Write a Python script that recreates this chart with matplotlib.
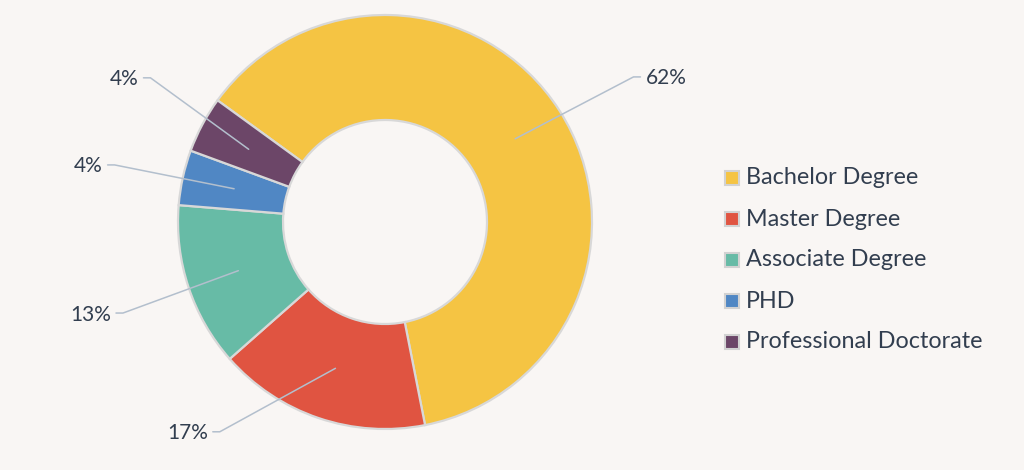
import numpy as np
import matplotlib
matplotlib.use('Agg')
import matplotlib.pyplot as plt
from matplotlib.patches import Rectangle

# data
categories = ['Bachelor Degree', 'Master Degree', 'Associate Degree', 'PHD', 'Professional Doctorate']
shares = [61.9, 16.6, 12.8, 4.3, 4.4]
colors = ['#F5C443', '#E05441', '#67BBA6', '#5087C4', '#6C4668']

bg = '#F9F6F4'
txt = '#323E4F'
plt.rcParams['font.family'] = ['Lato', 'DejaVu Sans']

fig = plt.figure(figsize=(10.24, 4.7), dpi=100, facecolor=bg)
ax = fig.add_axes([0, 0, 1, 1])
ax.set_facecolor(bg)

cx, cy, R, ring = 385, 248, 207, 105
start = 144
wedges, _ = ax.pie(shares, colors=colors, startangle=start, counterclock=False,
                   radius=R, center=(cx, cy),
                   wedgeprops=dict(width=ring, edgecolor='#D8D8D8', linewidth=1.6))

# leader lines + labels (nudges so labels don't crowd)
shift = [-2.3, -19.5, 0.8, 0.5, -3.5]
lab_r = [1.39, 1.29, 1.34, 1.335, 1.33]
total = float(sum(shares))
for w, v, s, lr in zip(wedges, shares, shift, lab_r):
    mid = np.deg2rad((w.theta1 + w.theta2) / 2)
    r_in = R - ring / 2
    ax0, ay0 = cx + r_in * np.cos(mid), cy + r_in * np.sin(mid)
    ang = mid + np.deg2rad(s)
    kx, ky = cx + lr * R * np.cos(ang), cy + lr * R * np.sin(ang)
    side = 1 if np.cos(ang) > 0 else -1
    ex = kx + side * 7
    ax.plot([ax0, kx, ex], [ay0, ky, ky], color='#B3BFCD', lw=1.1,
            solid_capstyle='round', zorder=5)
    ax.text(ex + side * 5, ky - 1.5, '%d%%' % round(100 * v / total), fontsize=15,
            color=txt, ha='left' if side > 0 else 'right', va='center')

# legend
lx, ly0, dy = 725, 470 - 178, 41
for i, (c, name) in enumerate(zip(colors, categories)):
    y = ly0 - i * dy
    ax.add_patch(Rectangle((lx, y - 7), 14, 14, facecolor=c, edgecolor='#D2D2D2', lw=1.5))
    ax.text(lx + 21, y, name, fontsize=16.8, color=txt, ha='left', va='center')

ax.set_xlim(0, 1024)
ax.set_ylim(0, 470)
ax.set_aspect('equal')
ax.axis('off')

fig.savefig('out.png', dpi=100, facecolor=bg)
